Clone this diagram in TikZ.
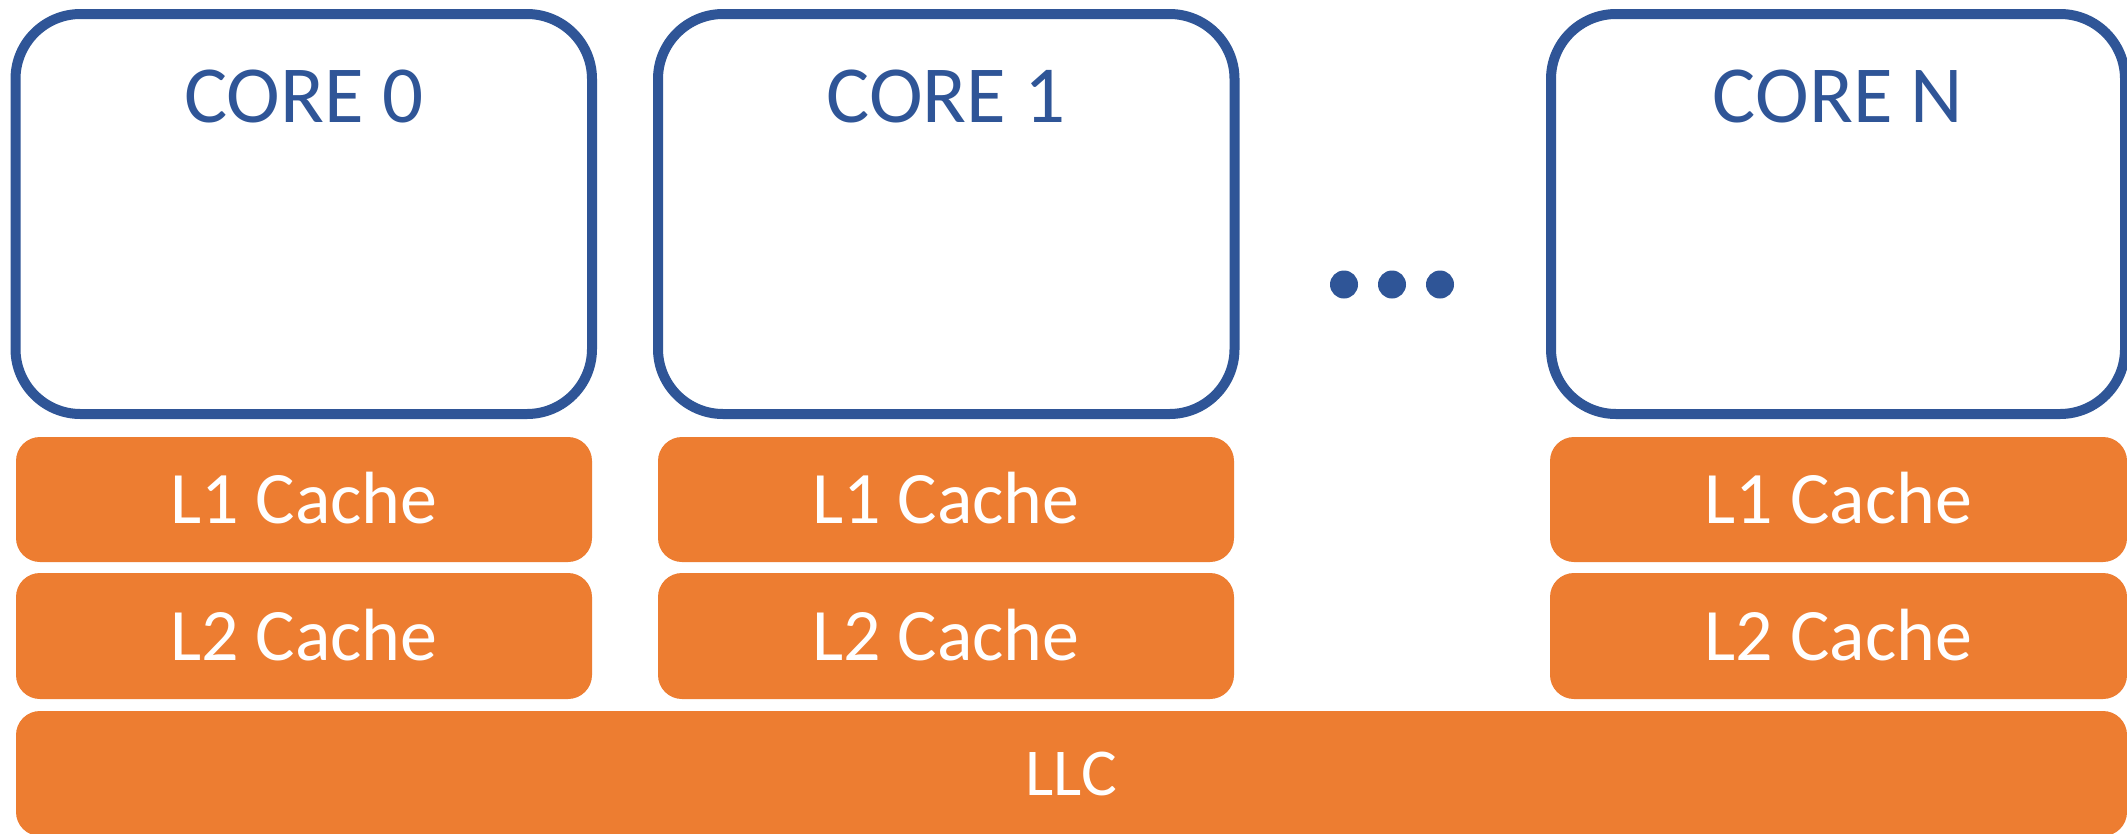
\documentclass[tikz,border=0pt]{standalone}
\usepackage{fontspec}
\setmainfont{Carlito}
\definecolor{coreblue}{HTML}{2F5597}
\definecolor{cacheorange}{HTML}{ED7D31}
\begin{document}
\begin{tikzpicture}[x=1pt,y=-1pt,
  corebox/.style={draw=coreblue,line width=10pt,rounded corners=65pt,minimum height=400pt,inner sep=0pt,fill=white},
  corelabel/.style={text=coreblue,font=\fontsize{81}{90}\selectfont,inner sep=0pt,anchor=base},
  cachebox/.style={fill=cacheorange,rounded corners=24pt,inner sep=0pt,text=white,font=\fontsize{74}{80}\selectfont,text height=48pt,text depth=0pt},
  llcbox/.style={fill=cacheorange,rounded corners=24pt,inner sep=0pt,text=white,font=\fontsize{67}{72}\selectfont,text height=43pt,text depth=0pt},
  dotmark/.style={circle,fill=coreblue,minimum size=28pt,inner sep=0pt}
]
\useasboundingbox (0,0) rectangle (2127,833);
\clip (0,0) rectangle (2127,833);
\fill[white] (0,0) rectangle (2127,833);
% cores
\node[corebox,minimum width=576.5pt] (core0) at (303.75,214) {};
\node[corebox,minimum width=576.5pt] (core1) at (946.25,214) {};
\node[corebox,minimum width=574pt] (coreN) at (1838,214) {};
\node[corelabel] (t0) at (303.75,122.7) {CORE 0};
\node[corelabel] (t1) at (946.25,122.7) {CORE 1};
\node[corelabel] (tN) at (1838,122.7) {CORE N};
% dots
\node[dotmark] (d1) at (1344,284.5) {};
\node[dotmark] (d2) at (1392,284.5) {};
\node[dotmark] (d3) at (1440,284.5) {};
% L1
\node[cachebox,minimum width=576pt,minimum height=125pt] (l1a) at (304,499.5) {L1 Cache};
\node[cachebox,minimum width=576pt,minimum height=125pt] (l1b) at (946,499.5) {L1 Cache};
\node[cachebox,minimum width=577pt,minimum height=125pt] (l1n) at (1838.5,499.5) {L1 Cache};
% L2
\node[cachebox,minimum width=576pt,minimum height=126pt] (l2a) at (304,636) {L2 Cache};
\node[cachebox,minimum width=576pt,minimum height=126pt] (l2b) at (946,636) {L2 Cache};
\node[cachebox,minimum width=577pt,minimum height=126pt] (l2n) at (1838.5,636) {L2 Cache};
% LLC
\node[llcbox,minimum width=2111pt,minimum height=125pt] (llc) at (1071.5,773.5) {LLC};
\end{tikzpicture}
\end{document}
